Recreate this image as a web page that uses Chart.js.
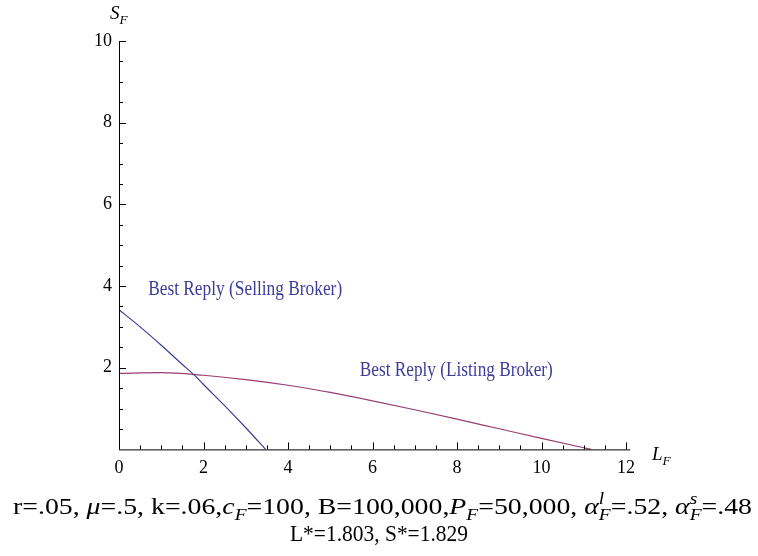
<!DOCTYPE html>
<html>
<head>
<meta charset="utf-8">
<script src="https://cdn.jsdelivr.net/npm/chart.js@4.4.1/dist/chart.umd.min.js"></script>
<style>
  html, body { margin: 0; padding: 0; background: #fff; }
</style>
</head>
<body>
<canvas id="myChart" width="758" height="556"></canvas>
<script>
// best reply of the selling broker (S as a function of L)
const sellingL = [0, 0.5, 1, 1.5, 1.803, 2, 2.5, 3, 3.47];
const sellingS = [3.42, 3.0, 2.55, 2.08, 1.8, 1.59, 1.07, 0.53, 0];

// best reply of the listing broker
const listingL = [0, 1, 2, 3, 4, 5, 6, 7, 8, 9, 10, 11, 11.18];
const listingS = [1.86, 1.88, 1.815, 1.71, 1.57, 1.395, 1.19, 0.97, 0.74, 0.505, 0.27, 0.04, 0];

// tick labels
const xTicks = [0, 2, 4, 6, 8, 10, 12];
const yTicks = [2, 4, 6, 8, 10];

const blue = '#3d3d99';
const purple = '#993d71';
const serif = '"Liberation Serif", "DejaVu Serif", serif';

function toPoints(xs, ys) {
  return xs.map((x, i) => ({ x: x, y: ys[i] }));
}

// text pieces with italics, subscripts and superscripts
function richWidth(ctx, segs, size) {
  let w = 0;
  segs.forEach(s => {
    ctx.font = (s.it ? 'italic ' : '') + size + 'px ' + serif;
    w += ctx.measureText(s.t).width;
    let extra = 0;
    ctx.font = 'italic ' + (size * 0.7) + 'px ' + serif;
    if (s.sub) extra = Math.max(extra, ctx.measureText(s.sub).width);
    if (s.sup) extra = Math.max(extra, ctx.measureText(s.sup).width);
    w += extra;
  });
  return w;
}

function drawRich(ctx, segs, size) {
  let x = 0;
  segs.forEach(s => {
    ctx.font = (s.it ? 'italic ' : '') + size + 'px ' + serif;
    ctx.fillText(s.t, x, 0);
    x += ctx.measureText(s.t).width;
    let extra = 0;
    ctx.font = 'italic ' + (size * 0.7) + 'px ' + serif;
    if (s.sub) {
      ctx.fillText(s.sub, x, size * 0.25);
      extra = Math.max(extra, ctx.measureText(s.sub).width);
    }
    if (s.sup) {
      ctx.fillText(s.sup, x, -size * 0.42);
      extra = Math.max(extra, ctx.measureText(s.sup).width);
    }
    x += extra;
  });
}

const footer1 = [
  { t: 'r=.05, ' }, { t: 'μ', it: true }, { t: '=.5, k=.06,' },
  { t: 'c', it: true, sub: 'F' }, { t: '=100, B=100,000,' },
  { t: 'P', it: true, sub: 'F' }, { t: '=50,000, ' },
  { t: 'α', it: true, sup: 'l', sub: 'F' }, { t: '=.52, ' },
  { t: 'α', it: true, sup: 's', sub: 'F' }, { t: '=.48' }
];
const footer2 = [{ t: 'L*=1.803, S*=1.829' }];

const axesPlugin = {
  id: 'mathAxes',
  afterDraw(chart) {
    const ctx = chart.ctx;
    const xs = chart.scales.x;
    const ys = chart.scales.y;
    const x0 = xs.getPixelForValue(0);
    const y0 = ys.getPixelForValue(0);

    ctx.save();
    ctx.strokeStyle = '#000';
    ctx.lineWidth = 1;
    // axis lines
    ctx.beginPath();
    ctx.moveTo(x0, y0 + 0.5);
    ctx.lineTo(xs.getPixelForValue(12.1), y0 + 0.5);
    ctx.moveTo(x0 + 0.5, y0);
    ctx.lineTo(x0 + 0.5, ys.getPixelForValue(10));
    ctx.stroke();

    // ticks point into the plot, every 0.5
    ctx.beginPath();
    for (let v = 0; v <= 12; v += 0.5) {
      const px = Math.round(xs.getPixelForValue(v)) + 0.5;
      const len = v % 2 === 0 ? 7 : 4;
      ctx.moveTo(px, y0);
      ctx.lineTo(px, y0 - len);
    }
    for (let v = 0.5; v <= 10; v += 0.5) {
      const py = Math.round(ys.getPixelForValue(v)) + 0.5;
      const len = v % 2 === 0 ? 7 : 4;
      ctx.moveTo(x0, py);
      ctx.lineTo(x0 + len, py);
    }
    ctx.stroke();

    // axis titles
    ctx.fillStyle = '#000';
    ctx.textBaseline = 'alphabetic';
    ctx.textAlign = 'left';
    ctx.save();
    ctx.translate(x0 - 9, 19);
    drawRich(ctx, [{ t: 'S', it: true, sub: 'F' }], 19);
    ctx.restore();
    ctx.save();
    ctx.translate(xs.getPixelForValue(12) + 26, y0 + 11);
    drawRich(ctx, [{ t: 'L', it: true, sub: 'F' }], 19);
    ctx.restore();

    // curve labels
    ctx.fillStyle = blue;
    const labels = [
      { t: 'Best Reply (Selling Broker)', x: 0.69, y: 3.95, w: 194 },
      { t: 'Best Reply (Listing Broker)', x: 5.7, y: 1.96, w: 193 }
    ];
    labels.forEach(l => {
      ctx.font = '22px ' + serif;
      const nat = ctx.measureText(l.t).width;
      ctx.save();
      ctx.translate(xs.getPixelForValue(l.x), ys.getPixelForValue(l.y) + 7);
      ctx.scale(l.w / nat, 1);
      ctx.fillText(l.t, 0, 0);
      ctx.restore();
    });

    // parameter footer
    ctx.fillStyle = '#000';
    const size = 24;
    const w1 = richWidth(ctx, footer1, size);
    ctx.save();
    ctx.translate(13, 514);
    ctx.scale(739 / w1, 1);
    drawRich(ctx, footer1, size);
    ctx.restore();
    const w2 = richWidth(ctx, footer2, size);
    ctx.save();
    ctx.translate(379, 541);
    ctx.scale(178 / w2, 1);
    ctx.translate(-w2 / 2, 0);
    drawRich(ctx, footer2, size);
    ctx.restore();
    ctx.restore();
  }
};

const myChart = document.getElementById('myChart');

new Chart(myChart, {
  type: 'scatter',
  data: {
    datasets: [
      {
        label: 'Best Reply (Selling Broker)',
        data: toPoints(sellingL, sellingS),
        showLine: true,
        borderColor: blue,
        borderWidth: 1.2,
        pointRadius: 0,
        tension: 0.3,
        cubicInterpolationMode: 'monotone'
      },
      {
        label: 'Best Reply (Listing Broker)',
        data: toPoints(listingL, listingS),
        showLine: true,
        borderColor: purple,
        borderWidth: 1.2,
        pointRadius: 0,
        tension: 0.4,
        cubicInterpolationMode: 'monotone'
      }
    ]
  },
  options: {
    responsive: false,
    animation: false,
    devicePixelRatio: 1,
    layout: { padding: { left: 87, right: 132, top: 41, bottom: 69 } },
    plugins: {
      legend: { display: false },
      tooltip: { enabled: false }
    },
    scales: {
      x: {
        type: 'linear',
        min: 0,
        max: 12,
        afterBuildTicks: s => { s.ticks = xTicks.map(v => ({ value: v })); },
        grid: { display: false, drawTicks: false },
        border: { display: false },
        ticks: {
          color: '#000',
          font: { family: serif, size: 18 },
          padding: 8,
          maxRotation: 0,
          autoSkip: false
        }
      },
      y: {
        type: 'linear',
        min: 0,
        max: 10,
        afterBuildTicks: s => { s.ticks = yTicks.map(v => ({ value: v })); },
        grid: { display: false, drawTicks: false },
        border: { display: false },
        ticks: {
          color: '#000',
          font: { family: serif, size: 18 },
          padding: 7,
          autoSkip: false
        }
      }
    }
  },
  plugins: [axesPlugin]
});
</script>
</body>
</html>
